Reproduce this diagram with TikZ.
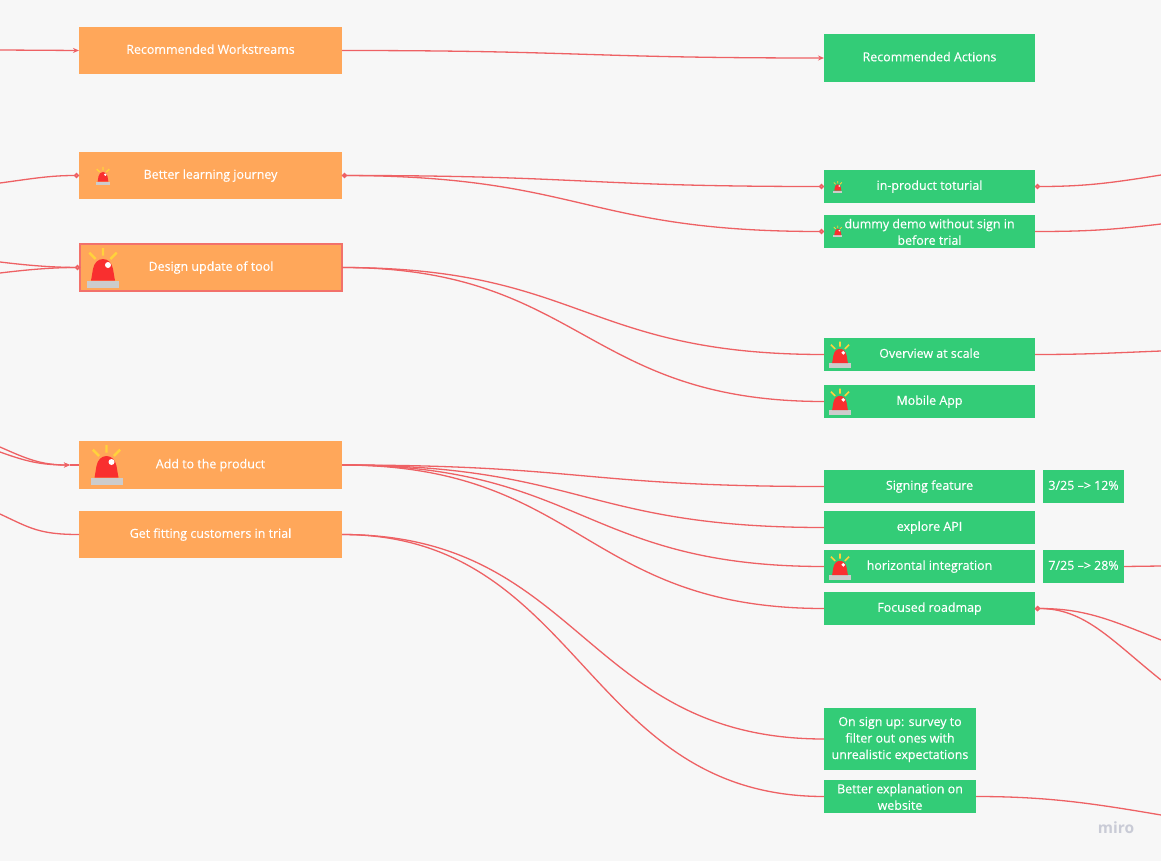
\documentclass[tikz,border=0pt]{standalone}
\usepackage{fontspec}
\setmainfont{Open Sans}[FakeBold=0.25]
\newfontfamily\wmfont{Open Sans}
\usetikzlibrary{arrows.meta}
\definecolor{bgc}{HTML}{F7F7F7}
\definecolor{orangec}{HTML}{FFA75A}
\definecolor{greenc}{HTML}{33CC77}
\definecolor{linec}{HTML}{EE6164}
\definecolor{framec}{HTML}{F2716B}
\definecolor{alarmred}{HTML}{F92F2F}
\definecolor{alarmray}{HTML}{FFD23C}
\definecolor{alarmbase}{HTML}{CCCCCC}
\definecolor{wmc}{HTML}{C9CBD6}
\tikzset{
  size/.style 2 args={minimum width=#1pt,minimum height=#2pt},
  box/.style={rectangle,inner sep=0pt,outer sep=0pt,text=white,align=center,font=\fontsize{12.45}{16.5}\selectfont,
    execute at begin node=\strut},
  obox/.style={box,fill=orangec},
  gbox/.style={box,fill=greenc},
  tight/.style={inner ysep=-5pt},
  conn/.style={draw=linec,line width=1.3pt},
  dotend/.style={conn,-{Circle[length=5pt,fill=linec!75!white]}},
  dotstart/.style={conn,{Circle[length=5pt,fill=linec!75!white]}-},
  dotboth/.style={conn,{Circle[length=5pt,fill=linec!75!white]}-{Circle[length=5pt,fill=linec!75!white]}},
  arrowend/.style={conn,-{Stealth[length=6pt,width=5pt]}},
  pics/alarm/.style={code={
    \fill[alarmbase] (-16,-7.3) rectangle (16,0);
    \fill[alarmred] (-12,-7.3) -- (-10,-19) .. controls (-9,-25) and (-5,-29) .. (0,-29)
       .. controls (5,-29) and (9,-25) .. (10,-19) -- (12,-7.3) -- cycle;
    \fill[white] (5,-23) circle (3);
    \draw[alarmray,line width=#1pt] (-13.7,-35.3) -- (-7.3,-29) (0,-40) -- (0,-32.3) (13.7,-35.3) -- (7.3,-29);
  }}
}
\begin{document}
\begin{tikzpicture}[x=1pt,y=-1pt]
\fill[bgc] (0,0) rectangle (1161,861);
\useasboundingbox (0,0) rectangle (1161,861);

% orange boxes
\node[obox,size={263}{47}] (ws) at (210.5,50.5) {Recommended Workstreams};
\node[obox,size={263}{47}] (learn) at (210.5,175.5) {Better learning journey};
\node[obox,size={262}{47},draw=framec,line width=1.5pt] (design) at (211,267.5) {Design update of tool};
\node[obox,size={263}{48}] (add) at (210.5,465) {Add to the product};
\node[obox,size={263}{47}] (fit) at (210.5,534.5) {Get fitting customers in trial};

% green boxes
\node[gbox,size={211}{48}] (actions) at (929.5,58) {Recommended Actions};
\node[gbox,size={211}{33}] (tut) at (929.5,186.5) {in-product toturial};
\node[gbox,tight,size={211}{33}] (demo) at (929.5,231.5) {\rule{0pt}{15pt}dummy demo without sign in\\before trial\strut};
\node[gbox,size={211}{33}] (over) at (929.5,354.5) {Overview at scale};
\node[gbox,size={211}{33}] (mobile) at (929.5,401.5) {Mobile App};
\node[gbox,size={211}{33}] (sign) at (929.5,486.5) {Signing feature};
\node[gbox,size={81}{33}] (p1) at (1083.5,486.5) {3/25 --> 12\%};
\node[gbox,size={211}{33}] (api) at (929.5,527.5) {explore API};
\node[gbox,size={211}{33}] (hor) at (929.5,566.5) {horizontal integration};
\node[gbox,size={81}{33}] (p2) at (1083.5,566.5) {7/25 --> 28\%};
\node[gbox,size={211}{33}] (road) at (929.5,608.5) {Focused roadmap};
\node[gbox,size={152}{62}] (survey) at (900,739) {\rule{0pt}{12pt}On sign up: survey to\\filter out ones with\\unrealistic expectations\strut};
\node[gbox,tight,size={152}{33}] (expl) at (900,796.5) {\rule{0pt}{15pt}Better explanation on\\website\strut};

% alarms
\pic[scale=.45] at (103,185) {alarm={1.4}};
\pic at (103,288) {alarm={2.4}};
\pic at (106.5,485) {alarm={2.4}};
\pic[scale=.29] at (837.8,192.7) {alarm={.8}};
\pic[scale=.29] at (837.8,237.3) {alarm={.8}};
\pic[scale=.66] at (840,368) {alarm={1.6}};
\pic[scale=.66] at (840,415) {alarm={1.6}};
\pic[scale=.66] at (840,580) {alarm={1.6}};

% free ends
\coordinate (a1) at (0,50);
\coordinate (a2) at (0,183);
\coordinate (a3) at (0,262);
\coordinate (a4) at (0,273);
\coordinate (a5) at (0,447);
\coordinate (a6) at (0,452);
\coordinate (a7) at (0,514);
\coordinate (addtip) at (70,465);
\coordinate (b1) at (1161,175);
\coordinate (b2) at (1161,224);
\coordinate (b3) at (1161,351);
\coordinate (b4) at (1161,566);
\coordinate (b5) at (1161,640);
\coordinate (b6) at (1161,680);
\coordinate (b7) at (1161,815);

% connectors on the left
\draw[arrowend] (a1) -- (ws.west);
\draw[dotend] (a2) .. controls +(30,-4) and +(-30,0) .. (learn.west);
\draw[conn] (a3) .. controls +(25,3) and +(-30,0) .. (design.west);
\draw[dotend] (a4) .. controls +(25,-3) and +(-30,0) .. (design.west);
\draw[arrowend] (a5) .. controls +(25,11) and +(-30,0) .. (addtip);
\draw[arrowend] (a6) .. controls +(25,9) and +(-30,0) .. (addtip);
\draw[conn] (addtip) -- (add.west);
\draw[conn] (a7) .. controls +(30,14) and +(-40,0) .. (fit.west);

% middle connectors
\draw[arrowend] (ws.east) .. controls +(240,0) and +(-240,0) .. (actions.west);
\draw[dotboth] (learn.east) .. controls +(240,0) and +(-240,0) .. (tut.west);
\draw[dotend] (learn.east) .. controls +(240,0) and +(-240,0) .. (demo.west);
\draw[conn] (design.east) .. controls +(240,0) and +(-240,0) .. (over.west);
\draw[conn] (design.east) .. controls +(240,0) and +(-240,0) .. (mobile.west);
\draw[conn] (add.east) .. controls +(240,0) and +(-240,0) .. (sign.west);
\draw[conn] (add.east) .. controls +(240,0) and +(-240,0) .. (api.west);
\draw[conn] (add.east) .. controls +(240,0) and +(-240,0) .. (hor.west);
\draw[conn] (add.east) .. controls +(240,0) and +(-240,0) .. (road.west);
\draw[conn] (fit.east) .. controls +(240,0) and +(-240,0) .. (survey.west);
\draw[conn] (fit.east) .. controls +(240,0) and +(-240,0) .. (expl.west);

% connectors on the right
\draw[dotstart] (tut.east) .. controls +(50,0) and +(-50,8) .. (b1);
\draw[conn] (demo.east) .. controls +(50,0) and +(-50,6) .. (b2);
\draw[conn] (over.east) .. controls +(50,0) and +(-50,2) .. (b3);
\draw[conn] (p2.east) -- (b4);
\draw[dotstart] (road.east) .. controls +(50,0) and +(-50,-20) .. (b5);
\draw[dotstart] (road.east) .. controls +(50,0) and +(-50,-40) .. (b6);
\draw[conn] (expl.east) .. controls +(70,0) and +(-70,-12) .. (b7);

% watermark
\node[inner sep=0pt,text=wmc,font=\wmfont\fontsize{15.5}{15.5}\selectfont\bfseries] (wm) at (1116,828) {miro};
\end{tikzpicture}
\end{document}
